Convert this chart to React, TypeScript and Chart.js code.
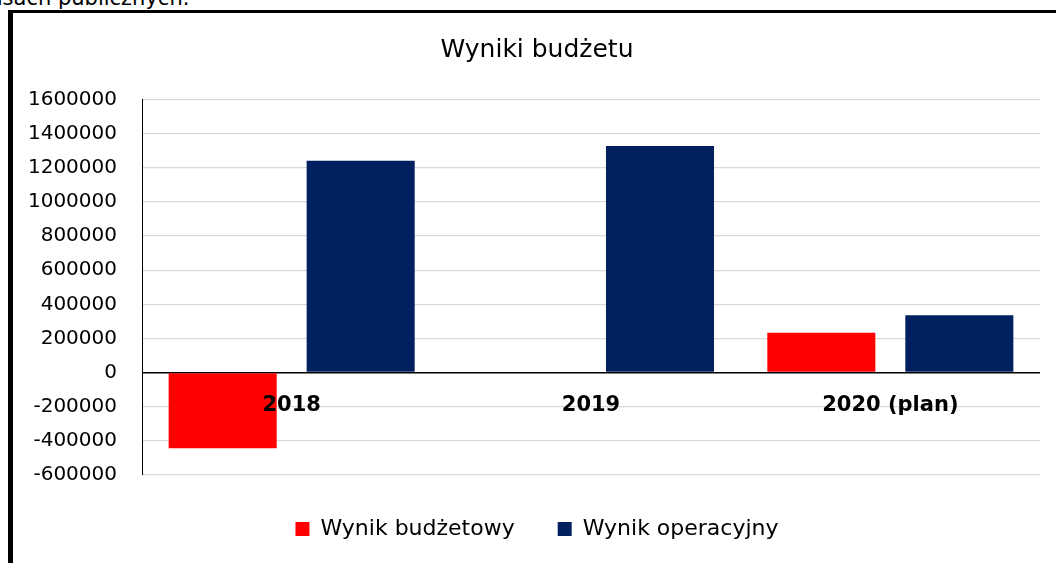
import React, { useEffect, useRef } from "react";
import { Chart, registerables } from "chart.js";

Chart.register(...registerables);

const categories = ["2018", "2019", "2020 (plan)"];
const wynikBudzetowy = [-444000, 0, 234000];
const wynikOperacyjny = [1241000, 1328000, 336000];
const seriesNames = ["Wynik budżetowy", "Wynik operacyjny"];
const seriesColors = ["#FF0000", "#002060"];
const titleText = "Wyniki budżetu";
const yMin = -600000;
const yMax = 1600000;
const yStep = 200000;

const FONT = "'DejaVu Sans', Verdana, sans-serif";

const categoryLabelsPlugin = {
  id: "categoryLabelsAtZero",
  afterLayout(chart: any) {
    // let the y tick labels use the padding space on the left (avoid clipping)
    if (chart.scales.y) chart.scales.y.left = 0;
  },
  afterDatasetsDraw(chart: any) {
    const { ctx, scales } = chart;
    const xs = scales.x;
    const ys = scales.y;
    const y0 = ys.getPixelForValue(0);
    ctx.save();
    ctx.font = `bold 21px ${FONT}`;
    ctx.fillStyle = "#000";
    ctx.textAlign = "center";
    ctx.textBaseline = "middle";
    categories.forEach((c, i) => {
      ctx.fillText(c, xs.getPixelForValue(i), y0 + 33);
    });
    ctx.restore();
  },
};

export default function App() {
  const ref = useRef<HTMLCanvasElement>(null);

  useEffect(() => {
    if (!ref.current) return;
    const chart = new Chart(ref.current, {
      type: "bar",
      data: {
        labels: categories,
        datasets: [
          {
            label: seriesNames[0],
            data: wynikBudzetowy,
            backgroundColor: seriesColors[0],
            borderWidth: 0,
          },
          {
            label: seriesNames[1],
            data: wynikOperacyjny,
            backgroundColor: seriesColors[1],
            borderWidth: 0,
          },
        ],
      },
      options: {
        responsive: false,
        animation: false,
        devicePixelRatio: 1,
        datasets: {
          bar: { categoryPercentage: 0.922, barPercentage: 0.783 },
        },
        layout: { padding: { left: 22, right: 22, top: 0, bottom: 11 } },
        plugins: {
          title: {
            display: true,
            text: titleText,
            color: "#000",
            font: { family: FONT, size: 25, weight: "normal" },
            padding: { top: 22, bottom: 34.5 },
          },
          legend: {
            position: "bottom",
            labels: {
              color: "#000",
              font: { family: FONT, size: 22 },
              boxWidth: 14,
              boxHeight: 14,
              padding: 43,
            },
          },
          tooltip: { enabled: false },
        },
        scales: {
          x: {
            display: true,
            grid: { display: false, drawTicks: false },
            border: { display: false },
            ticks: { display: false },
            afterFit(scale: any) {
              scale.height = 0;
            },
          },
          y: {
            min: yMin,
            max: yMax,
            border: { display: true, color: "#000", width: 1 },
            grid: {
              drawTicks: false,
              color: (ctx: any) => (ctx.tick && ctx.tick.value === 0 ? "#000" : "#d9d9d9"),
              lineWidth: (ctx: any) => (ctx.tick && ctx.tick.value === 0 ? 1.5 : 1.2),
            },
            ticks: {
              stepSize: yStep,
              color: "#000",
              padding: 25,
              font: { family: FONT, size: 20 },
              callback: (v: any) => String(v),
            },
            afterFit(scale: any) {
              scale.width = 108;
            },
          },
        },
      } as any,
      plugins: [categoryLabelsPlugin],
    });
    return () => chart.destroy();
  }, []);

  return (
    <div style={{ position: "fixed", left: 0, top: 0, right: 0, bottom: 0, overflow: "hidden", background: "#fff" }}>
      <div
        style={{
          position: "absolute",
          left: -74,
          top: -12,
          font: `21px ${FONT}`,
          lineHeight: "21px",
          whiteSpace: "nowrap",
          color: "#000",
        }}
      >
        w finansach publicznych.
      </div>
      <div
        style={{
          position: "absolute",
          left: 8,
          top: 10,
          width: 1100,
          height: 600,
          borderLeft: "5px solid #000",
          borderTop: "3px solid #000",
          background: "#fff",
        }}
      >
        <canvas
          ref={ref}
          width={1050}
          height={548}
          style={{ display: "block", width: 1050, height: 548, marginLeft: -1 }}
        />
      </div>
    </div>
  );
}
